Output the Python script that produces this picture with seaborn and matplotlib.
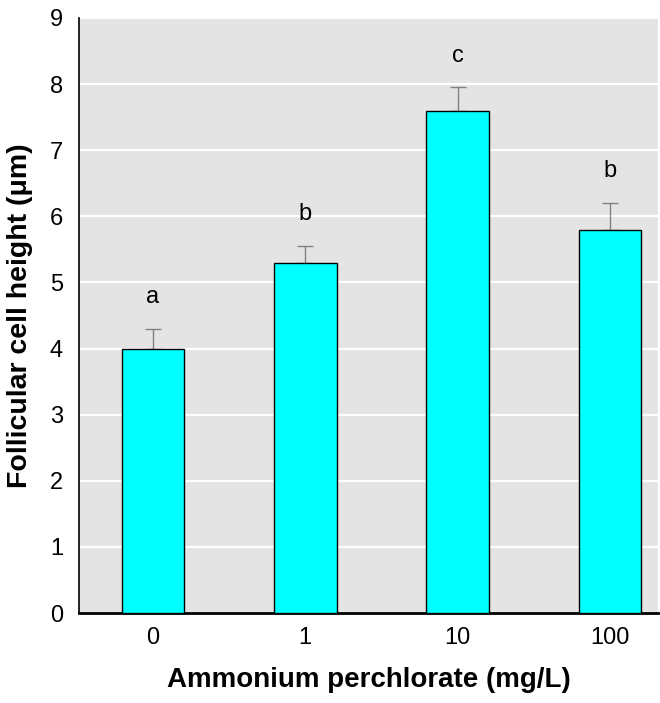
import matplotlib
matplotlib.use('Agg')
import matplotlib.pyplot as plt
import seaborn as sns
import pandas as pd

# 数据：剂量分组、平均值、上误差、显著性字母
doses = ['0', '1', '10', '100']
means = [4.0, 5.3, 7.6, 5.8]
errs = [0.3, 0.25, 0.35, 0.4]
letters = ['a', 'b', 'c', 'b']

sns.set_theme(style='darkgrid', rc={'axes.facecolor': '#e4e4e4',
                                   'grid.color': 'white',
                                   'grid.linewidth': 1.6})
plt.rcParams['font.family'] = ['Liberation Sans', 'DejaVu Sans']
plt.rcParams['text.color'] = 'black'
plt.rcParams['axes.labelcolor'] = 'black'

df = pd.DataFrame({'dose': doses, 'mean': means})

fig = plt.figure(figsize=(6.6, 7.03), dpi=100)
ax = fig.add_axes([0.1197, 0.128, 0.877, 0.8464])

sns.barplot(data=df, x='dose', y='mean', color='#00ffff', width=0.41,
            edgecolor='black', linewidth=1, saturation=1, ax=ax, zorder=3)

# 只画上误差线
ax.errorbar(range(len(doses)), means, yerr=[[0] * len(errs), errs],
            fmt='none', ecolor='#808080', elinewidth=1, capsize=6,
            capthick=1, zorder=2)

for i, (m, e, t) in enumerate(zip(means, errs, letters)):
    ax.text(i, m + e + 0.48, t, ha='center', va='center', fontsize=17)

ax.set_ylim(0, 9)
ax.set_xlim(-0.486, 3.315)
ax.set_yticks(range(10))
ax.grid(axis='x', visible=False)
ax.set_axisbelow(True)

for s in ['top', 'right']:
    ax.spines[s].set_visible(False)
for s in ['left', 'bottom']:
    ax.spines[s].set_visible(True)
    ax.spines[s].set_color('black')
ax.spines['left'].set_linewidth(1.2)
ax.spines['bottom'].set_linewidth(2)

ax.tick_params(axis='both', labelsize=17, colors='black', length=0)
ax.tick_params(axis='y', pad=11.5)
ax.tick_params(axis='x', pad=10)
ax.set_xlabel('Ammonium perchlorate (mg/L)', fontsize=20, fontweight='bold',
              labelpad=13)
ax.set_ylabel('Follicular cell height (μm)', fontsize=20.5, fontweight='bold',
              labelpad=12)

fig.savefig('out.png', dpi=100)
